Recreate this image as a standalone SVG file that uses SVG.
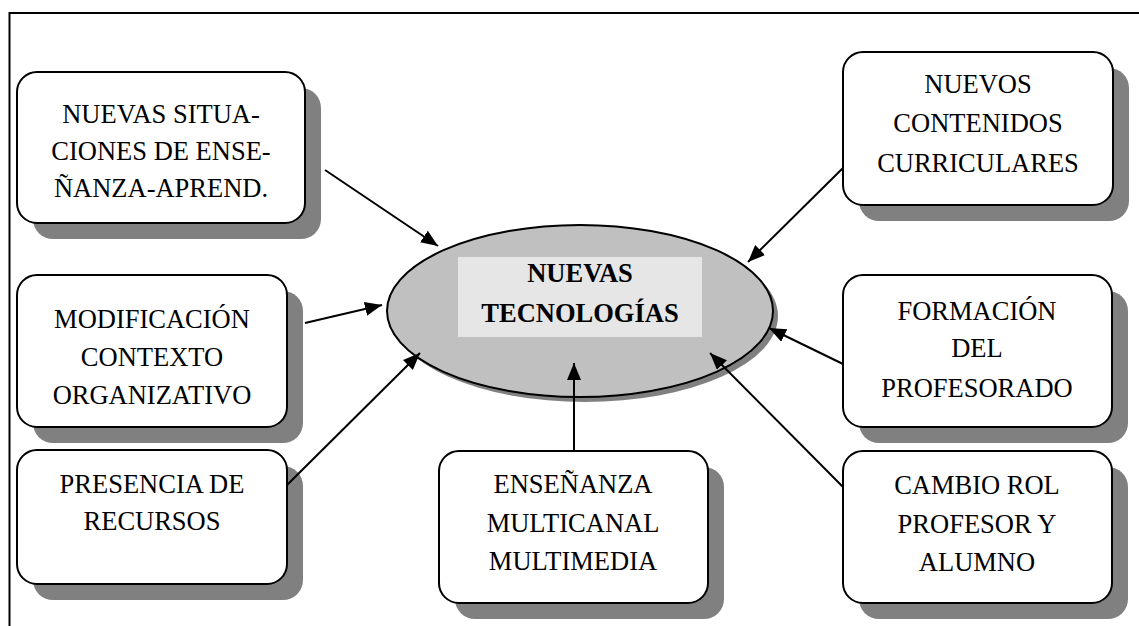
<svg xmlns="http://www.w3.org/2000/svg" width="1139" height="626" viewBox="0 0 1139 626">
<defs>
<style>
.box{fill:#ffffff;stroke:#000000;stroke-width:2}
.shadow{fill:#808080}
.t{font-family:"Liberation Serif","Times New Roman",serif;font-size:26.5px;fill:#000000;text-anchor:middle}
.tb{font-family:"Liberation Serif","Times New Roman",serif;font-size:26.5px;font-weight:bold;fill:#000000;text-anchor:middle}
.conn{stroke:#000000;stroke-width:2;fill:none}
</style>
<marker id="arr" markerUnits="userSpaceOnUse" markerWidth="18" markerHeight="15" refX="17" refY="7" orient="auto">
<path d="M0,0 L17,7 L0,14 z" fill="#000000"/>
</marker>
</defs>
<rect width="1139" height="626" fill="#ffffff"/>
<g id="frame">
<path d="M9.5,626 L9.5,13 L1139,13" fill="none" stroke="#000000" stroke-width="2"/>
</g>
<g id="center">
<ellipse cx="585" cy="316" rx="193" ry="86" fill="#808080"/>
<ellipse cx="580" cy="311" rx="193" ry="86" fill="#c0c0c0" stroke="#000000" stroke-width="2"/>
<rect x="458" y="257" width="244" height="80" fill="#e6e6e6"/>
<text class="tb" x="580" y="282">NUEVAS</text>
<text class="tb" x="580" y="322">TECNOLOGÍAS</text>
</g>
<g id="n1">
<rect class="shadow" x="33" y="88" width="288" height="151" rx="20"/>
<rect class="box" x="17" y="72" width="288" height="151" rx="20"/>
<text class="t" x="161" y="123">NUEVAS SITUA-</text>
<text class="t" x="161" y="160">CIONES DE ENSE-</text>
<text class="t" x="161" y="197">ÑANZA-APREND.</text>
</g>
<g id="n2">
<rect class="shadow" x="33" y="291" width="270" height="152" rx="20"/>
<rect class="box" x="17" y="275" width="270" height="152" rx="20"/>
<text class="t" x="152" y="328">MODIFICACIÓN</text>
<text class="t" x="152" y="366">CONTEXTO</text>
<text class="t" x="152" y="404">ORGANIZATIVO</text>
</g>
<g id="n3">
<rect class="shadow" x="33" y="466" width="270" height="134" rx="20"/>
<rect class="box" x="17" y="450" width="270" height="134" rx="20"/>
<text class="t" x="152" y="493">PRESENCIA DE</text>
<text class="t" x="152" y="530">RECURSOS</text>
</g>
<g id="n4">
<rect class="shadow" x="859" y="68" width="270" height="153" rx="20"/>
<rect class="box" x="843" y="52" width="270" height="153" rx="20"/>
<text class="t" x="978" y="93">NUEVOS</text>
<text class="t" x="978" y="132">CONTENIDOS</text>
<text class="t" x="978" y="172">CURRICULARES</text>
</g>
<g id="n5">
<rect class="shadow" x="859" y="291" width="269" height="152" rx="20"/>
<rect class="box" x="843" y="275" width="269" height="152" rx="20"/>
<text class="t" x="977" y="320">FORMACIÓN</text>
<text class="t" x="977" y="357">DEL</text>
<text class="t" x="977" y="397">PROFESORADO</text>
</g>
<g id="n6">
<rect class="shadow" x="859" y="467" width="269" height="152" rx="20"/>
<rect class="box" x="843" y="451" width="269" height="152" rx="20"/>
<text class="t" x="977" y="494">CAMBIO ROL</text>
<text class="t" x="977" y="533">PROFESOR Y</text>
<text class="t" x="977" y="571">ALUMNO</text>
</g>
<g id="n7">
<rect class="shadow" x="455" y="467" width="269" height="152" rx="20"/>
<rect class="box" x="439" y="451" width="269" height="152" rx="20"/>
<text class="t" x="573" y="493">ENSEÑANZA</text>
<text class="t" x="573" y="532">MULTICANAL</text>
<text class="t" x="573" y="570">MULTIMEDIA</text>
</g>
<g id="connectors">
<line class="conn" x1="325" y1="170" x2="438" y2="246" marker-end="url(#arr)"/>
<line class="conn" x1="305" y1="323" x2="382" y2="305" marker-end="url(#arr)"/>
<line class="conn" x1="287" y1="485" x2="420" y2="353" marker-end="url(#arr)"/>
<line class="conn" x1="843" y1="168" x2="748" y2="262" marker-end="url(#arr)"/>
<line class="conn" x1="843" y1="364" x2="769" y2="328" marker-end="url(#arr)"/>
<line class="conn" x1="843" y1="487" x2="710" y2="353" marker-end="url(#arr)"/>
<line class="conn" x1="574" y1="451" x2="574" y2="363" marker-end="url(#arr)"/>
</g>
</svg>
